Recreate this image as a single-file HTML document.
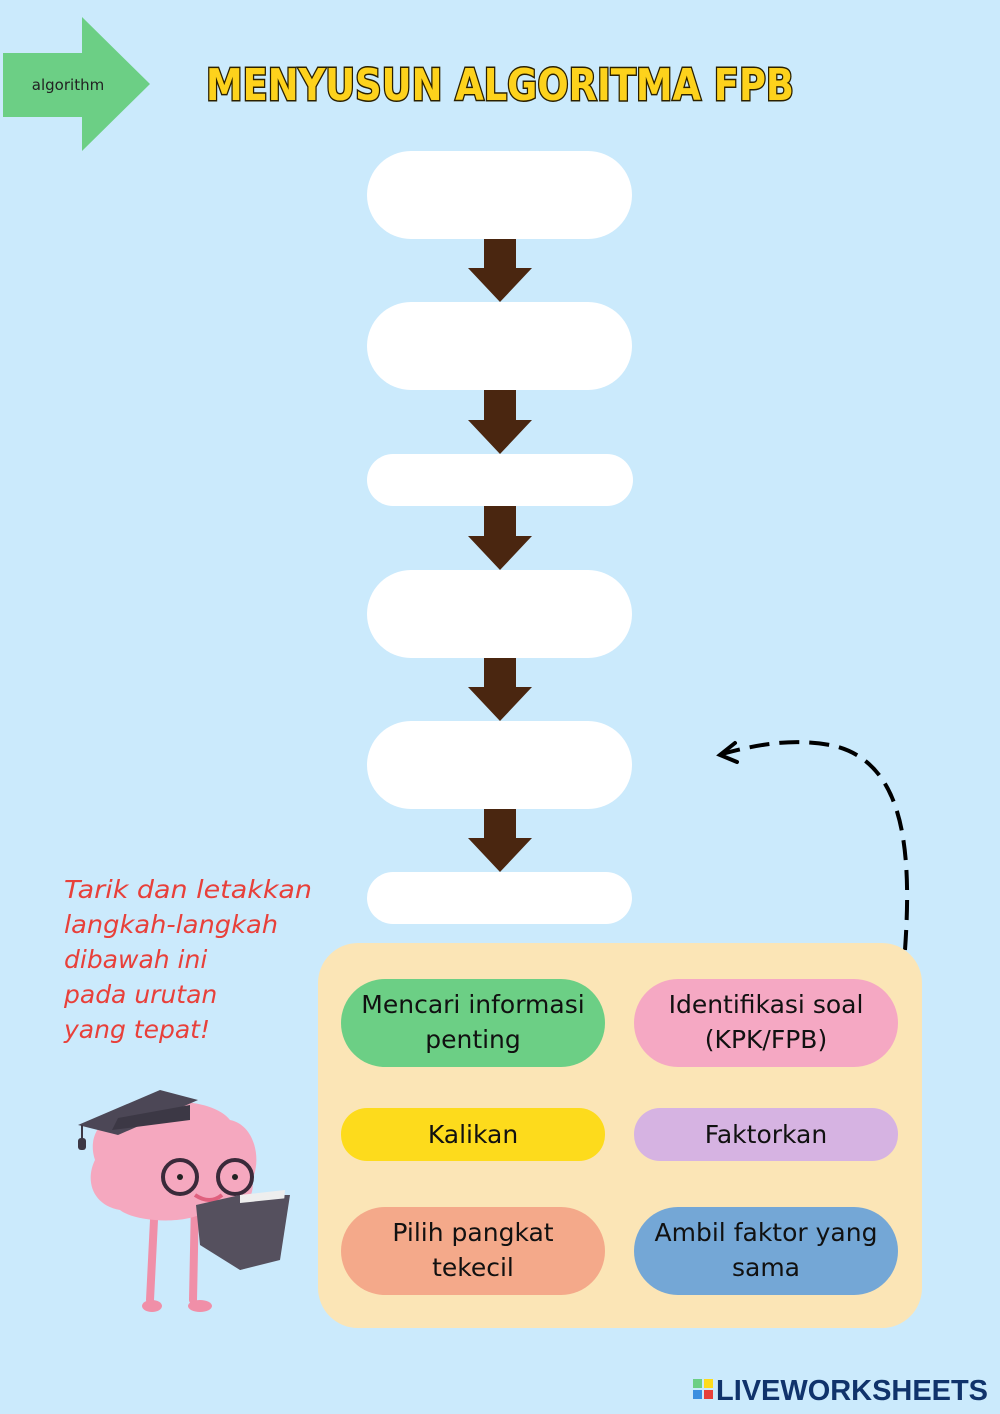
<!DOCTYPE html>
<html><head><meta charset="utf-8"><style>
html,body{margin:0;padding:0;background:#cbeafc;}
svg{display:block;font-family:"Liberation Sans",sans-serif}
</style></head><body>
<svg width="1000" height="1414" viewBox="0 0 1000 1414" xmlns="http://www.w3.org/2000/svg">
<rect width="1000" height="1414" fill="#cbeafc"/>
<polygon points="3,53 82,53 82,17 150,84 82,151 82,117 3,117" fill="#6ccf85"/>
<text x="68" y="90" font-size="15" text-anchor="middle" fill="#222" font-family="DejaVu Sans, sans-serif">algorithm</text>
<text x="500" y="100" font-size="44" font-weight="bold" text-anchor="middle" fill="#fdd21c" stroke="#2a2000" stroke-width="3" paint-order="stroke" font-family="DejaVu Sans, sans-serif" textLength="588" lengthAdjust="spacingAndGlyphs">MENYUSUN ALGORITMA FPB</text>
<g fill="#fff">
<rect x="367" y="151" width="265" height="88" rx="44"/>
<rect x="367" y="302" width="265" height="88" rx="44"/>
<rect x="367" y="454" width="266" height="52" rx="26"/>
<rect x="367" y="570" width="265" height="88" rx="44"/>
<rect x="367" y="721" width="265" height="88" rx="44"/>
<rect x="367" y="872" width="265" height="52" rx="26"/>
</g>
<g fill="#4a2610">
<polygon points="484,239 516,239 516,268 532,268 500,302 468,268 484,268"/>
<polygon points="484,390 516,390 516,420 532,420 500,454 468,420 484,420"/>
<polygon points="484,506 516,506 516,536 532,536 500,570 468,536 484,536"/>
<polygon points="484,658 516,658 516,687 532,687 500,721 468,687 484,687"/>
<polygon points="484,809 516,809 516,838 532,838 500,872 468,838 484,838"/>
</g>
<path d="M905,950 C912,850 905,760 830,745 C790,738 755,745 722,754" fill="none" stroke="#000" stroke-width="4" stroke-dasharray="20,10"/>
<path d="M735,743 L720,755 L737,762" fill="none" stroke="#000" stroke-width="4" stroke-linecap="round"/>
<g fill="#e8403a" font-size="25" font-family="DejaVu Sans, sans-serif" font-style="italic">
<text x="64" y="898" textLength="248" lengthAdjust="spacingAndGlyphs">Tarik dan letakkan</text>
<text x="64" y="933" textLength="214" lengthAdjust="spacingAndGlyphs">langkah-langkah</text>
<text x="64" y="968">dibawah ini</text>
<text x="64" y="1003">pada urutan</text>
<text x="64" y="1038">yang tepat!</text>
</g>
<rect x="318" y="943" width="604" height="385" rx="40" fill="#fbe5b6"/>
<rect x="341" y="979" width="264" height="88" rx="44" fill="#6ccf85"/>
<rect x="634" y="979" width="264" height="88" rx="44" fill="#f5a8c3"/>
<rect x="341" y="1108" width="264" height="53" rx="26" fill="#fddb1c"/>
<rect x="634" y="1108" width="264" height="53" rx="26" fill="#d6b3e2"/>
<rect x="341" y="1207" width="264" height="88" rx="44" fill="#f4a98a"/>
<rect x="634" y="1207" width="264" height="88" rx="44" fill="#74a7d6"/>
<g font-size="25" text-anchor="middle" fill="#111" font-family="DejaVu Sans, sans-serif">
<text x="473" y="1013">Mencari informasi</text>
<text x="473" y="1048">penting</text>
<text x="766" y="1013">Identifikasi soal</text>
<text x="766" y="1048">(KPK/FPB)</text>
<text x="473" y="1143">Kalikan</text>
<text x="766" y="1143">Faktorkan</text>
<text x="473" y="1241">Pilih pangkat</text>
<text x="473" y="1276">tekecil</text>
<text x="766" y="1241">Ambil faktor yang</text>
<text x="766" y="1276">sama</text>
</g>
<g>
<path d="M155,1200 L150,1300" stroke="#f08fa8" stroke-width="8" fill="none" stroke-linecap="round"/>
<path d="M195,1200 L193,1300" stroke="#f08fa8" stroke-width="8" fill="none" stroke-linecap="round"/>
<ellipse cx="152" cy="1306" rx="10" ry="6" fill="#f08fa8"/>
<ellipse cx="200" cy="1306" rx="12" ry="6" fill="#f08fa8"/>
<path d="M95,1160 C85,1130 110,1110 135,1112 C160,1095 215,1100 230,1120 C255,1125 262,1160 252,1180 C258,1205 225,1222 205,1212 C185,1225 135,1222 120,1210 C92,1205 85,1180 95,1160 Z" fill="#f5a8bf"/>
<circle cx="180" cy="1177" r="17" fill="none" stroke="#3a2a3a" stroke-width="4"/>
<circle cx="235" cy="1177" r="17" fill="none" stroke="#3a2a3a" stroke-width="4"/>
<circle cx="180" cy="1177" r="3" fill="#222"/><circle cx="235" cy="1177" r="3" fill="#222"/>
<path d="M195,1195 Q210,1205 222,1195" stroke="#e0607e" stroke-width="4" fill="none"/>
<polygon points="78,1125 160,1090 198,1100 118,1135" fill="#4c4756"/>
<path d="M112,1130 L190,1120 L190,1105 L118,1118 Z" fill="#3c3845"/>
<line x1="82" y1="1125" x2="82" y2="1145" stroke="#3c3845" stroke-width="2"/>
<rect x="78" y="1138" width="8" height="12" rx="3" fill="#3c3845"/>
<polygon points="196,1205 240,1195 290,1195 280,1260 240,1270 200,1245" fill="#55505e"/>
<polygon points="240,1195 285,1190 280,1250 240,1262" fill="#eee"/>
<polygon points="240,1203 288,1198 280,1258 240,1270" fill="#55505e"/>
</g>
<rect x="693" y="1379" width="9" height="9" fill="#6ccf85"/>
<rect x="704" y="1379" width="9" height="9" fill="#fddb1c"/>
<rect x="693" y="1390" width="9" height="9" fill="#3b8fe0"/>
<rect x="704" y="1390" width="9" height="9" fill="#e8403a"/>
<text x="716" y="1400" font-size="29" font-weight="bold" fill="#10336b" textLength="272" lengthAdjust="spacingAndGlyphs">LIVEWORKSHEETS</text>
</svg>
</body></html>
